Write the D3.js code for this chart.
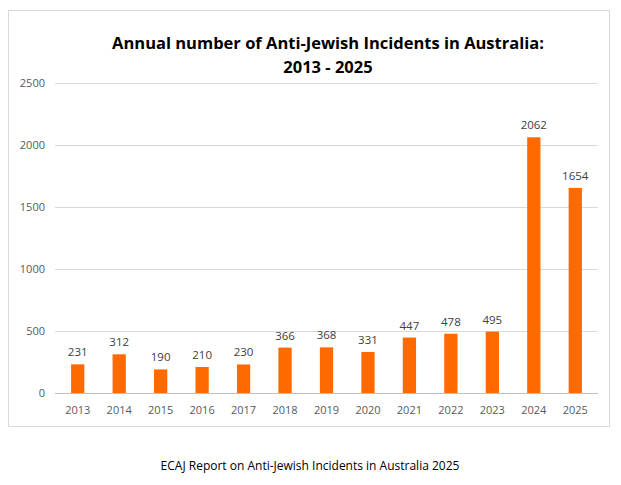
<!DOCTYPE html>
<html><head><meta charset="utf-8">
<script src="https://cdn.jsdelivr.net/npm/d3@7"></script>
<style>body{margin:0;background:#fff}</style></head>
<body><svg id="c" width="621" height="485"></svg>
<script>
const years=["2013","2014","2015","2016","2017","2018","2019","2020","2021","2022","2023","2024","2025"];
const incidents=[231,312,190,210,230,366,368,331,447,478,495,2062,1654];
const yTicks=[0,500,1000,1500,2000,2500];
const svg=d3.select("#c");
const font="'Open Sans', 'Liberation Sans', sans-serif";
svg.append("rect").attr("x",8.5).attr("y",10.5).attr("width",601).attr("height",416).attr("fill","#fff").attr("stroke","#d9d9d9");
const x=d3.scaleBand().domain(years).range([57,596]).paddingInner(0.68).paddingOuter(0.34);
const y=d3.scaleLinear().domain([0,2500]).range([393,83]);
svg.append("g").selectAll("line").data(yTicks).join("line")
 .attr("x1",55).attr("x2",598).attr("y1",d=>y(d)+0.5).attr("y2",d=>y(d)+0.5)
 .attr("stroke",d=>d===0?"#bfbfbf":"#d9d9d9");
svg.append("g").selectAll("text").data(yTicks).join("text")
 .attr("x",45).attr("y",d=>y(d)+4).attr("text-anchor","end").attr("font-family",font).attr("font-size",11).attr("fill","#595959").text(d=>d);
svg.append("g").selectAll("rect").data(incidents).join("rect")
 .attr("x",(d,i)=>x(years[i])).attr("width",x.bandwidth()).attr("y",d=>y(d)).attr("height",d=>393-y(d)).attr("fill","#ff6a00");
svg.append("g").selectAll("text").data(incidents).join("text")
 .attr("x",(d,i)=>x(years[i])+x.bandwidth()/2).attr("y",d=>y(d)-8).attr("text-anchor","middle").attr("font-family",font).attr("font-size",11.5).attr("fill","#404040").text(d=>d);
svg.append("g").selectAll("text").data(years).join("text")
 .attr("x",d=>x(d)+x.bandwidth()/2).attr("y",414).attr("text-anchor","middle").attr("font-family",font).attr("font-size",11).attr("fill","#595959").text(d=>d);
const t=svg.append("text").attr("text-anchor","middle").attr("font-family",font).attr("font-weight","bold").attr("font-size",16.5).attr("fill","#000");
t.append("tspan").attr("x",328).attr("y",49).text("Annual number of Anti-Jewish Incidents in Australia:");
t.append("tspan").attr("x",328).attr("y",73).text("2013 - 2025");
svg.append("text").attr("x",310).attr("y",470).attr("text-anchor","middle").attr("font-family",font).attr("font-size",12).attr("fill","#000").text("ECAJ Report on Anti-Jewish Incidents in Australia 2025");
</script></body></html>
